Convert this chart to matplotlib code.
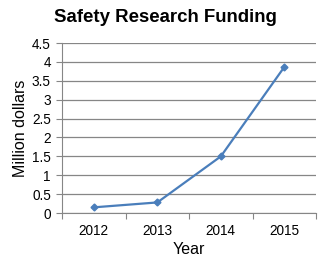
import numpy as np
import matplotlib
matplotlib.use("Agg")
import matplotlib.pyplot as plt

years = ["2012", "2013", "2014", "2015"]
funding = [0.15, 0.28, 1.5, 3.87]
yticks = [0, 0.5, 1, 1.5, 2, 2.5, 3, 3.5, 4, 4.5]

plt.rcParams["font.family"] = ["Liberation Sans", "DejaVu Sans"]

fig = plt.figure(figsize=(3.3, 2.71), dpi=100)
ax = fig.add_axes([0.188, 0.214, 0.77, 0.627])

xs = np.arange(len(years))
ax.plot(xs, funding, color="#4a7ebb", lw=1.6, marker="D", ms=3.5)

ax.set_xlim(-0.5, len(years) - 0.5)
ax.set_ylim(0, 4.5)
ax.set_yticks(yticks)
ax.set_yticklabels([f"{v:g}" for v in yticks], fontsize=9.8)
ax.yaxis.grid(True, color="#868686", lw=0.9)
ax.set_axisbelow(True)

# category ticks sit between the years
ax.set_xticks(np.arange(-0.5, len(years)), minor=False)
ax.set_xticklabels([])
ax.set_xticks(xs, minor=True)
ax.set_xticklabels(years, minor=True, fontsize=9.8)
ax.tick_params(axis="x", which="minor", length=0, pad=8)
ax.tick_params(axis="x", which="major", length=4, color="#868686", direction="out")
ax.tick_params(axis="y", length=4, color="#868686", pad=4)

for s in ["top", "right"]:
    ax.spines[s].set_visible(False)
for s in ["left", "bottom"]:
    ax.spines[s].set_color("#868686")

ax.set_ylabel("Million dollars", fontsize=11.5, labelpad=3)
ax.set_xlabel("Year", fontsize=11.5, labelpad=3)
fig.text(0.5, 0.935, "Safety Research Funding", ha="center", va="center",
         fontsize=13.4, fontweight="bold")

fig.savefig("out.png", dpi=100)
